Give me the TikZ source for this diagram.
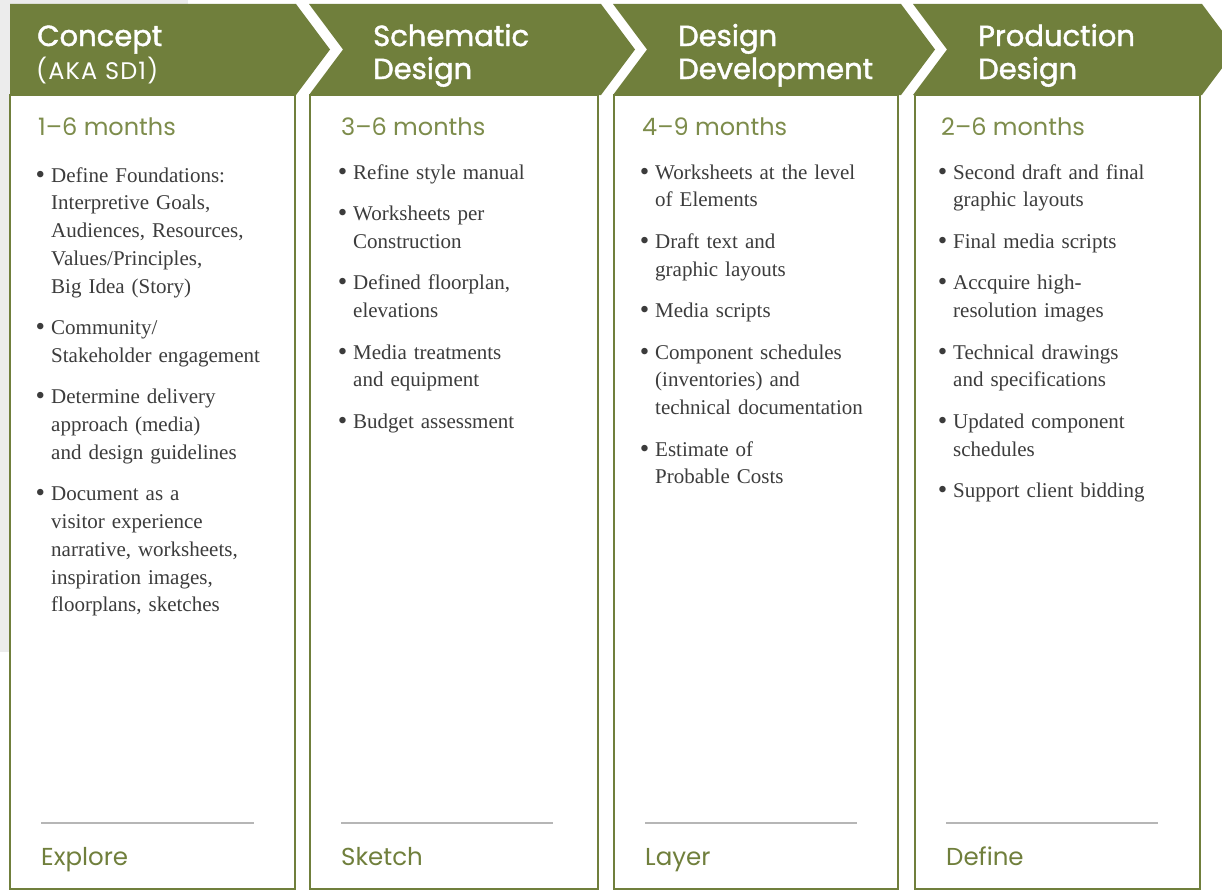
\documentclass[tikz,border=0pt]{standalone}
\usepackage{fontspec}
\setmainfont{Liberation Serif}
\newfontfamily\headfont[FakeBold=1.5]{Poppins}
\newfontfamily\akafont[LetterSpace=5]{Poppins}
\newfontfamily\lightfont{Poppins}
\definecolor{hgreen}{HTML}{707F3C}
\definecolor{mgreen}{HTML}{7D8C4B}
\definecolor{bodytext}{HTML}{3C3C3C}
\definecolor{bggrey}{HTML}{ECECEC}
\definecolor{rulegrey}{HTML}{B6B6B6}
\begin{document}
\begin{tikzpicture}[x=1pt,y=-1pt,
  headshape/.style={fill=hgreen,draw=none},
  colbox/.style={draw=hgreen,line width=2pt,fill=white},
  titletext/.style={anchor=base west,inner sep=0pt,text=white,text width=280pt,align=left,font=\headfont\fontsize{29}{33}\selectfont},
  akatext/.style={anchor=base west,inner sep=0pt,text=white,font=\akafont\fontsize{24}{28}\selectfont},
  monthtext/.style={anchor=base west,inner sep=0pt,text=mgreen,font=\lightfont\fontsize{24}{28}\selectfont},
  labeltext/.style={anchor=base west,inner sep=0pt,text=hgreen,font=\lightfont\fontsize{24.5}{28}\selectfont},
  itemtext/.style={anchor=base west,inner sep=0pt,text width=240pt,align=left,text=bodytext,font=\fontsize{21}{27.75}\selectfont},
  sepline/.style={draw=rulegrey,line width=2pt}
]
\newcommand{\bul}{\leavevmode\llap{\raisebox{-1pt}{\fontsize{27}{27}\selectfont\textbullet}\hspace{6pt}}}
\useasboundingbox (0,0) rectangle (1222,891);
\clip (0,0) rectangle (1222,891);
\fill[bggrey] (0,0) rectangle (188,652);

% column boxes
\draw[colbox] (10,95) rectangle (295,889);
\draw[colbox] (310,95) rectangle (598,889);
\draw[colbox] (614,95) rectangle (898,889);
\draw[colbox] (915,95) rectangle (1200,889);

% header chevrons
\fill[headshape] (10,4) -- (296,4) -- (330,49.5) -- (296,95) -- (10,95) -- cycle;
\fill[headshape] (309,4) -- (601,4) -- (635,49.5) -- (601,95) -- (309,95) -- (343,49.5) -- cycle;
\fill[headshape] (613,4) -- (901,4) -- (935,49.5) -- (901,95) -- (613,95) -- (647,49.5) -- cycle;
\fill[headshape] (913,4) -- (1202,4) -- (1236,49.5) -- (1202,95) -- (913,95) -- (947,49.5) -- cycle;

% header titles
\node[titletext] (h1) at (37,46) {Concept};
\node[akatext] (h1b) at (36,79) {(AKA SD1)};
\node[titletext] (h2) at (373,46) {Schematic\\Design};
\node[titletext] (h3) at (678,46) {Design\\Development};
\node[titletext] (h4) at (978,46) {Production\\Design};

% durations
\node[monthtext] (m1) at (38,135) {1–6 months};
\node[monthtext] (m2) at (341,135) {3–6 months};
\node[monthtext] (m3) at (642,135) {4–9 months};
\node[monthtext] (m4) at (941,135) {2–6 months};

% column 1 items
\node[itemtext] (c1a) at (51,182) {\bul Define Foundations:\\Interpretive Goals,\\Audiences, Resources,\\Values/Principles,\\Big Idea (Story)};
\node[itemtext] (c1b) at (51,334.5) {\bul Community/\\Stakeholder engagement};
\node[itemtext] (c1c) at (51,403.75) {\bul Determine delivery\\approach (media)\\and design guidelines};
\node[itemtext] (c1d) at (51,500.75) {\bul Document as a\\visitor experience\\narrative, worksheets,\\inspiration images,\\floorplans, sketches};

% column 2 items
\node[itemtext] (c2a) at (353,179) {\bul Refine style manual};
\node[itemtext] (c2b) at (353,220.5) {\bul Worksheets per\\Construction};
\node[itemtext] (c2c) at (353,289.75) {\bul Defined floorplan,\\elevations};
\node[itemtext] (c2d) at (353,359) {\bul Media treatments\\and equipment};
\node[itemtext] (c2e) at (353,428.25) {\bul Budget assessment};

% column 3 items
\node[itemtext] (c3a) at (655,179) {\bul Worksheets at the level\\of Elements};
\node[itemtext] (c3b) at (655,248.25) {\bul Draft text and\\graphic layouts};
\node[itemtext] (c3c) at (655,317.5) {\bul Media scripts};
\node[itemtext] (c3d) at (655,359) {\bul Component schedules\\(inventories) and\\technical documentation};
\node[itemtext] (c3e) at (655,456) {\bul Estimate of\\Probable Costs};

% column 4 items
\node[itemtext] (c4a) at (953,179) {\bul Second draft and final\\graphic layouts};
\node[itemtext] (c4b) at (953,248.25) {\bul Final media scripts};
\node[itemtext] (c4c) at (953,289.75) {\bul Accquire high-\\resolution images};
\node[itemtext] (c4d) at (953,359) {\bul Technical drawings\\and specifications};
\node[itemtext] (c4e) at (953,428.25) {\bul Updated component\\schedules};
\node[itemtext] (c4f) at (953,497.5) {\bul Support client bidding};

% separator rules
\draw[sepline] (41,823) -- (254,823);
\draw[sepline] (341,823) -- (553,823);
\draw[sepline] (645,823) -- (857,823);
\draw[sepline] (946,823) -- (1158,823);

% bottom labels
\node[labeltext] (l1) at (41,865) {Explore};
\node[labeltext] (l2) at (341,865) {Sketch};
\node[labeltext] (l3) at (645,865) {Layer};
\node[labeltext] (l4) at (946,865) {Define};
\end{tikzpicture}
\end{document}
